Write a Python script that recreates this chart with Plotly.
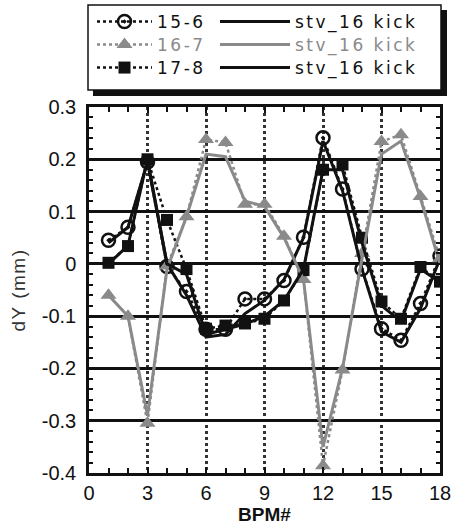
import plotly.graph_objects as go

bpm = list(range(1, 19))

d_15_6 = [0.045, 0.07, 0.195, -0.005, -0.053, -0.125, -0.125, -0.067, -0.067, -0.032,
          0.051, 0.241, 0.143, -0.01, -0.124, -0.146, -0.076, 0.015]
d_16_7 = [-0.06, -0.10, -0.305, -0.004, 0.09, 0.238, 0.232, 0.114, 0.114, 0.053,
          -0.03, -0.386, -0.203, 0.02, 0.234, 0.247, 0.129, 0.01]
d_17_8 = [0.002, 0.034, 0.20, 0.084, -0.01, -0.124, -0.118, -0.114, -0.105, -0.07,
          -0.012, 0.18, 0.19, 0.05, -0.072, -0.105, -0.006, -0.034]

m_15_6 = [0.04, 0.07, 0.195, 0.0, -0.06, -0.14, -0.135, -0.095, -0.07, -0.03,
          0.05, 0.235, 0.14, -0.01, -0.13, -0.15, -0.085, 0.01]
m_16_7 = [-0.06, -0.10, -0.29, -0.01, 0.09, 0.21, 0.205, 0.12, 0.11, 0.05,
          -0.03, -0.35, -0.2, 0.01, 0.21, 0.235, 0.125, 0.0]
m_17_8 = [0.0, 0.035, 0.2, 0.0, -0.02, -0.135, -0.125, -0.115, -0.1, -0.07,
          -0.01, 0.18, 0.18, 0.04, -0.08, -0.11, -0.01, -0.035]

y_ticks = [0.3, 0.2, 0.1, 0, -0.1, -0.2, -0.3, -0.4]
y_ticktext = ["0.3", "0.2", "0.1", "0", "-0.1", "-0.2", "-0.3", "-0.4"]
x_ticks = [0, 3, 6, 9, 12, 15, 18]

GRAY = "#8a8a8a"
BLACK = "#111111"

# plot area in pixels
L, R, T, B = 89, 440, 107, 473
W, H = 451, 526


def px_x(p):
    return (p - L) / (R - L)


def px_y(p):
    return (B - p) / (B - T)


def lab(s, color=BLACK):
    return f'<span style="letter-spacing:2.5px;color:{color}">{s}</span>'


fig = go.Figure()

fig.add_trace(go.Scatter(x=bpm, y=d_15_6, mode="lines+markers", name=lab("15-6"),
                         line=dict(color=BLACK, width=2.5, dash="dot"),
                         marker=dict(symbol="circle-open-dot", size=13, color=BLACK, line=dict(width=2.5)),
                         legend="legend"))
fig.add_trace(go.Scatter(x=bpm, y=d_16_7, mode="lines+markers", name=lab("16-7", GRAY),
                         line=dict(color=GRAY, width=2.5, dash="dot"),
                         marker=dict(symbol="triangle-up", size=14, color=GRAY),
                         legend="legend3"))
fig.add_trace(go.Scatter(x=bpm, y=d_17_8, mode="lines+markers", name=lab("17-8"),
                         line=dict(color=BLACK, width=2.5, dash="dot"),
                         marker=dict(symbol="square", size=12, color=BLACK),
                         legend="legend5"))

fig.add_trace(go.Scatter(x=bpm, y=m_15_6, mode="lines", name=lab("stv_16 kick"),
                         line=dict(color=BLACK, width=3), legend="legend2"))
fig.add_trace(go.Scatter(x=bpm, y=m_16_7, mode="lines", name=lab("stv_16 kick", GRAY),
                         line=dict(color=GRAY, width=3), legend="legend4"))
fig.add_trace(go.Scatter(x=bpm, y=m_17_8, mode="lines", name=lab("stv_16 kick"),
                         line=dict(color=BLACK, width=3), legend="legend6"))

legend_common = dict(
    bgcolor="rgba(0,0,0,0)", borderwidth=0,
    font=dict(family="DejaVu Sans", size=17, color=BLACK),
    yanchor="middle", xanchor="left", orientation="v",
    tracegroupgap=0,
)

rows = [22, 45, 68]
legends = {}
for i, yrow in enumerate(rows):
    legends["legend" if i == 0 else f"legend{2 * i + 1}"] = dict(
        x=px_x(92), y=px_y(yrow), itemwidth=55, **legend_common)
    legends[f"legend{2 * i + 2}"] = dict(
        x=px_x(215), y=px_y(yrow), itemwidth=70, **legend_common)

fig.update_layout(
    width=W, height=H,
    margin=dict(l=L, r=W - R, t=T, b=H - B, autoexpand=False),
    paper_bgcolor="white", plot_bgcolor="white",
    showlegend=True,
    font=dict(family="Liberation Sans", color=BLACK),
    xaxis=dict(
        range=[0, 18], tickvals=x_ticks, ticks="inside", ticklen=6, tickwidth=2,
        tickcolor=BLACK, automargin=False, ticklabeloverflow="allow",
        minor=dict(dtick=1, ticks="inside", ticklen=5, tickwidth=2, tickcolor=BLACK, showgrid=False),
        showgrid=True, gridcolor="#333333", gridwidth=2.5, griddash="dot",
        zeroline=False, showline=True, linecolor=BLACK, linewidth=2.5, mirror="allticks",
        tickfont=dict(size=20, color=BLACK, family="Liberation Sans"),
        title=dict(text="<b>BPM#</b>", font=dict(size=19, color=BLACK), standoff=2),
    ),
    yaxis=dict(
        range=[-0.4, 0.3], tickvals=y_ticks, ticktext=y_ticktext,
        ticks="inside", ticklen=6, tickwidth=2, tickcolor=BLACK, automargin=False,
        ticklabeloverflow="allow",
        minor=dict(dtick=0.02, ticks="inside", ticklen=4, tickwidth=2, tickcolor=BLACK, showgrid=False),
        showgrid=True, gridcolor=BLACK, gridwidth=2.5,
        zeroline=False, showline=True, linecolor=BLACK, linewidth=2.5, mirror="allticks",
        tickfont=dict(size=20, color=BLACK, family="Liberation Sans"),
        ticklabelstandoff=6,
        title=dict(text='<span style="letter-spacing:1.5px">dY (mm)</span>',
                   font=dict(size=19, color="#333333"), standoff=12),
    ),
    shapes=[
        dict(type="rect", xref="paper", yref="paper",
             x0=px_x(93), x1=px_x(447), y0=px_y(96), y1=px_y(10),
             fillcolor=BLACK, line=dict(width=0), layer="above"),
        dict(type="rect", xref="paper", yref="paper",
             x0=px_x(88), x1=px_x(441), y0=px_y(90), y1=px_y(5),
             fillcolor="white", line=dict(color=BLACK, width=1.5), layer="above"),
    ],
    **legends,
)

fig.write_html("out.html")
